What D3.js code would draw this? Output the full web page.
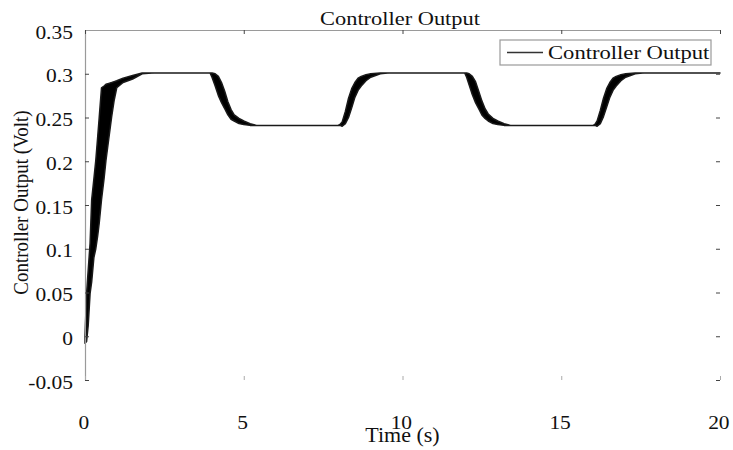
<!DOCTYPE html>
<html>
<head>
<meta charset="utf-8">
<script src="https://cdn.jsdelivr.net/npm/d3@7"></script>
<style>
  html, body { margin: 0; padding: 0; background: #fff; }
  svg { display: block; }
  text { font-family: "Liberation Serif", "Times New Roman", serif; fill: #111; }
</style>
</head>
<body>
<svg id="chart" width="733" height="450"></svg>
<script>
// Controller output (V) over time (s): the signal chatters during each transient,
// so it is kept as an upper and a lower envelope sampled at the same instants.
const timeS = [
  0, 0.05, 0.1, 0.16, 0.21, 0.28, 0.34, 0.4, 0.45, 0.52, 0.6, 0.66, 0.75, 0.84, 0.92, 1.0, 1.2, 1.5, 1.8, 2.2,
  3.94, 4.0, 4.1, 4.2, 4.3, 4.4, 4.5, 4.6, 4.7, 4.85, 5.0, 5.2, 5.4,
  7.97, 8.03, 8.1, 8.2, 8.3, 8.4, 8.5, 8.6, 8.7, 8.85, 9.0, 9.3, 9.6,
  11.96, 12.02, 12.1, 12.2, 12.3, 12.4, 12.5, 12.6, 12.7, 12.85, 13.0, 13.2, 13.4,
  16.0, 16.06, 16.13, 16.23, 16.33, 16.43, 16.53, 16.63, 16.73, 16.88, 17.03, 17.33, 17.63,
  20
];
const outputUpper = [
  0.0, 0.049, 0.075, 0.106, 0.156, 0.18, 0.201, 0.228, 0.251, 0.284, 0.286, 0.288, 0.289, 0.29, 0.291, 0.292, 0.295, 0.298, 0.301, 0.301,
  0.301, 0.301, 0.3, 0.297, 0.29, 0.28, 0.268, 0.259, 0.253, 0.249, 0.246, 0.243, 0.241,
  0.241, 0.242, 0.245, 0.257, 0.272, 0.283, 0.29, 0.295, 0.297, 0.299, 0.3, 0.301, 0.301,
  0.301, 0.301, 0.3, 0.297, 0.291, 0.28, 0.269, 0.26, 0.254, 0.249, 0.246, 0.243, 0.241,
  0.241, 0.242, 0.246, 0.258, 0.272, 0.283, 0.29, 0.295, 0.297, 0.299, 0.3, 0.301, 0.301,
  0.301
];
const outputLower = [
  -0.008, -0.006, 0.012, 0.049, 0.062, 0.09, 0.1, 0.115, 0.13, 0.156, 0.18, 0.201, 0.226, 0.251, 0.27, 0.284, 0.29, 0.294, 0.3, 0.301,
  0.301, 0.296, 0.286, 0.275, 0.267, 0.26, 0.253, 0.248, 0.246, 0.243, 0.242, 0.241, 0.241,
  0.241, 0.241, 0.24, 0.243, 0.25, 0.261, 0.273, 0.281, 0.286, 0.292, 0.296, 0.3, 0.301,
  0.301, 0.296, 0.287, 0.276, 0.267, 0.26, 0.253, 0.249, 0.246, 0.243, 0.242, 0.241, 0.241,
  0.241, 0.241, 0.24, 0.243, 0.251, 0.262, 0.273, 0.281, 0.286, 0.292, 0.296, 0.3, 0.301,
  0.301
];

const xTickValues = [0, 5, 10, 15, 20];
const xTickLabels = ["0", "5", "10", "15", "20"];
const yTickValues = [-0.05, 0, 0.05, 0.1, 0.15, 0.2, 0.25, 0.3, 0.35];
const yTickLabels = ["-0.05", "0", "0.05", "0.1", "0.15", "0.2", "0.25", "0.3", "0.35"];

const titleText = "Controller Output";
const xLabelText = "Time (s)";
const yLabelText = "Controller Output (Volt)";
const legendText = "Controller Output";

const svg = d3.select("#chart");
const plotLeft = 85, plotRight = 720, plotTop = 30, plotBottom = 380;
const fontPx = 19.5;
const stretch = 1.1; // glyphs run slightly wide

const x = d3.scaleLinear().domain([0, 20]).range([plotLeft, plotRight]);
const y = d3.scaleLinear().domain([-0.05, 0.35]).range([plotBottom, plotTop]);

const rows = timeS.map((t, i) => ({ t, hi: outputUpper[i], lo: outputLower[i] }));

// Signal band
const band = d3.area()
  .x(d => x(d.t))
  .y0(d => y(d.lo))
  .y1(d => y(d.hi));

svg.append("path")
  .datum(rows)
  .attr("d", band)
  .attr("fill", "#000")
  .attr("stroke", "#1a1a1a")
  .attr("stroke-width", 1.5)
  .attr("stroke-linejoin", "round");

// Axes
const axisStyle = g => {
  g.selectAll(".tick line").attr("stroke", "#444").attr("stroke-width", 1);
  g.selectAll("text").style("font-size", fontPx + "px")
    .style("font-family", "'Liberation Serif', 'Times New Roman', serif")
    .attr("fill", "#111");
};

// left axis (with frame line)
svg.append("g")
  .attr("transform", `translate(${plotLeft},0)`)
  .call(d3.axisLeft(y).tickValues(yTickValues)
    .tickFormat((d, i) => yTickLabels[i]).tickSize(-4).tickSizeOuter(0).tickPadding(11))
  .call(axisStyle)
  .call(g => g.select(".domain").attr("stroke", "#9a9a9a").attr("stroke-width", 1.2))
  .call(g => g.selectAll(".tick text").attr("y", 2).attr("transform", `scale(${stretch},1)`));

// right axis: ticks only
svg.append("g")
  .attr("transform", `translate(${plotRight},0)`)
  .call(d3.axisRight(y).tickValues(yTickValues).tickFormat("").tickSize(-4).tickSizeOuter(0))
  .call(axisStyle)
  .call(g => g.select(".domain").remove());

// bottom axis: ticks and labels, no line
svg.append("g")
  .attr("transform", `translate(0,${plotBottom})`)
  .call(d3.axisBottom(x).tickValues(xTickValues)
    .tickFormat((d, i) => xTickLabels[i]).tickSize(-4).tickSizeOuter(0).tickPadding(35))
  .call(axisStyle)
  .call(g => g.select(".domain").remove())
  .call(g => g.selectAll(".tick line").attr("stroke", "#aaa"))
  .call(g => g.selectAll(".tick text").attr("x", -1.5).attr("transform", `scale(${stretch},1)`));

// top axis (with frame line)
svg.append("g")
  .attr("transform", `translate(0,${plotTop})`)
  .call(d3.axisTop(x).tickValues(xTickValues).tickFormat("").tickSize(-4).tickSizeOuter(0))
  .call(axisStyle)
  .call(g => g.select(".domain").attr("stroke", "#9a9a9a").attr("stroke-width", 1.2));

// Text helper: horizontal text widened slightly
function label(tx, ty, str, anchor, size, sx) {
  return svg.append("text")
    .attr("transform", `translate(${tx},${ty}) scale(${sx || stretch},1)`)
    .attr("text-anchor", anchor)
    .style("font-size", size + "px")
    .text(str);
}

label(400, 25, titleText, "middle", 19, 1.18);
label(402.5, 442, xLabelText, "middle", 20);

svg.append("text")
  .attr("transform", `translate(28,202.5) scale(${stretch},1) rotate(-90)`)
  .attr("text-anchor", "middle")
  .style("font-size", "19px")
  .text(yLabelText);

// Legend
const legend = svg.append("g");
legend.append("rect")
  .attr("x", 500).attr("y", 40).attr("width", 211).attr("height", 25)
  .attr("fill", "#fff").attr("stroke", "#9a9a9a").attr("stroke-width", 1.2);
legend.append("line")
  .attr("x1", 507).attr("x2", 543).attr("y1", 52.5).attr("y2", 52.5)
  .attr("stroke", "#333").attr("stroke-width", 1.5);
label(548, 59, legendText, "start", 19.5, 1.16);
</script>
</body>
</html>
